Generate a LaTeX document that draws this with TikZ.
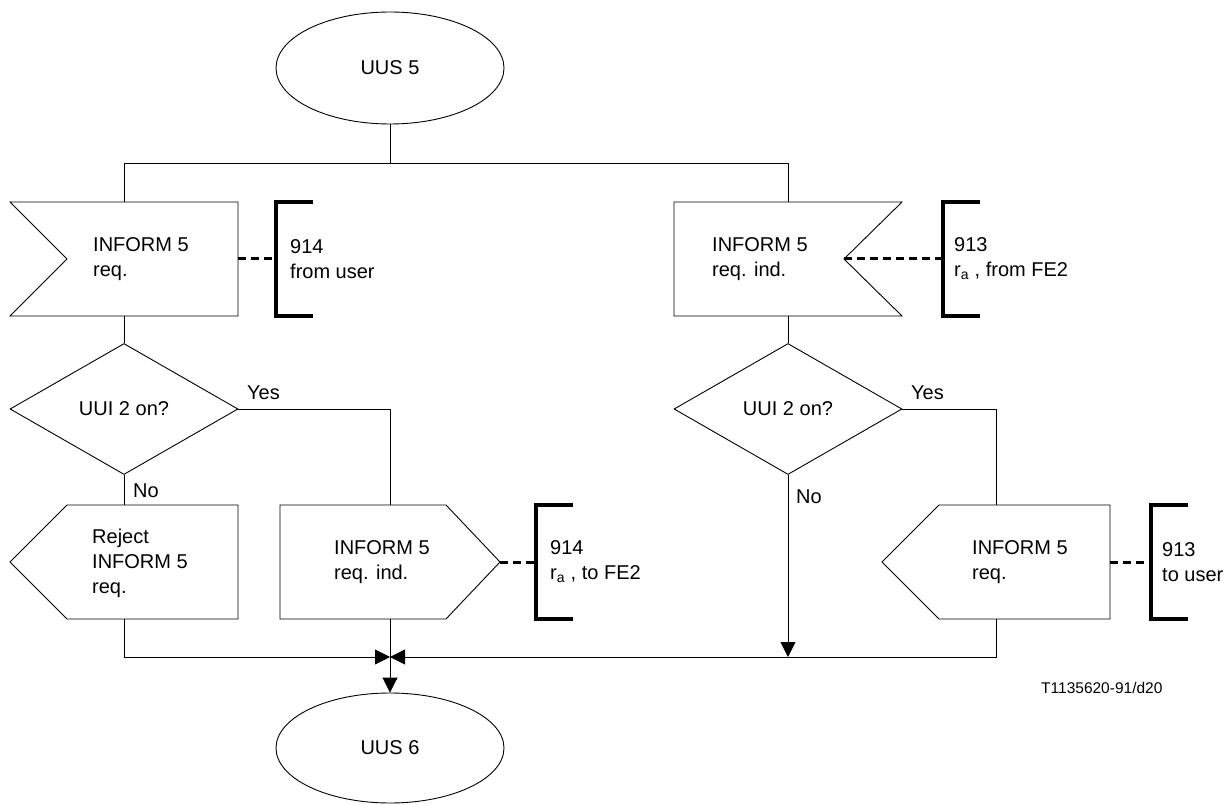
\documentclass[tikz,border=0pt]{standalone}
\usepackage{fontspec}
\setmainfont{Liberation Sans}
\usetikzlibrary{arrows.meta,shapes.geometric,calc}
\begin{document}
\begin{tikzpicture}[x=1pt,y=-1pt,
  every node/.style={font=\fontsize{20}{25}\selectfont},
  line/.style={line width=0.9pt},
  flow/.style={line, -{Triangle[length=15pt,width=15pt]}},
  area/.style={inner sep=0pt, outer sep=0pt, minimum width=228pt, minimum height=114pt},
  state/.style={ellipse, draw, line, minimum width=228pt, minimum height=112pt, inner sep=0pt},
  decision/.style={diamond, draw, line, minimum width=228pt, minimum height=131pt, inner sep=0pt},
  txt/.style={align=left, anchor=west, inner sep=0pt},
  tag/.style={inner sep=0pt, anchor=base west},
  brk/.style={inner sep=0pt, outer sep=0pt, minimum width=37pt, minimum height=114pt, anchor=west},
  ref/.style={line width=3.4pt},
  link/.style={line width=3pt, dash pattern=on 8pt off 5pt},
]
\useasboundingbox (0,0) rectangle (1227,805);

% start state and top distribution bus
\node[state] (uus5) at (390,68) {UUS 5};
\coordinate (busM) at (390,163);

% input: INFORM 5 req. (from user)
\node[area] (in1) at (124,259) {};
\draw[line] (in1.north west) -- (in1.north east) -- (in1.south east)
  -- (in1.south west) -- ($(in1.west)+(57,0)$) -- cycle;
\node[txt] (in1t) at (93,259) {INFORM 5\\req.};
\node[brk] (br1) at (276,259) {};
\draw[ref] (br1.north east) -- (br1.north west) -- (br1.south west) -- (br1.south east);
\draw[link] (in1.east) -- (br1.west);
\node[txt] (br1t) at (290,259) {914\\from user};

% input: INFORM 5 req. ind. (from FE2)
\node[area] (in2) at (788,259) {};
\coordinate (in2n) at ($(in2.east)-(58,0)$);
\draw[line] (in2.north west) -- (in2.north east) -- (in2n) -- (in2.south east)
  -- (in2.south west) -- cycle;
\node[txt] (in2t) at (712,259) {INFORM 5\\req. ind.};
\node[brk] (br2) at (943,259) {};
\draw[ref] (br2.north east) -- (br2.north west) -- (br2.south west) -- (br2.south east);
\draw[link] (in2n) -- (br2.west);
\node[txt] (br2t) at (954,259) {913\\r\textsubscript{a} , from FE2};

% decisions
\node[decision] (dec1) at (124,409) {UUI 2 on?};
\node[decision] (dec2) at (788,409) {UUI 2 on?};
\node[tag] (yes1) at (247,399) {Yes};
\node[tag] (no1) at (133,497) {No};
\node[tag] (yes2) at (911,399) {Yes};
\node[tag] (no2) at (796,503) {No};

% output: Reject INFORM 5 req.
\node[area] (out1) at (124,562) {};
\draw[line] (out1.west) -- ($(out1.north west)+(57,0)$) -- (out1.north east)
  -- (out1.south east) -- ($(out1.south west)+(57,0)$) -- cycle;
\node[txt] (out1t) at (92,563) {Reject\\INFORM 5\\req.};

% output: INFORM 5 req. ind. (to FE2)
\node[area, minimum width=220pt] (out2) at (390,562) {};
\draw[line] (out2.north west) -- ($(out2.north east)-(54,0)$) -- (out2.east)
  -- ($(out2.south east)-(54,0)$) -- (out2.south west) -- cycle;
\node[txt] (out2t) at (334,562) {INFORM 5\\req. ind.};
\node[brk] (br3) at (536,562) {};
\draw[ref] (br3.north east) -- (br3.north west) -- (br3.south west) -- (br3.south east);
\draw[link] (out2.east) -- (br3.west);
\node[txt] (br3t) at (550,562) {914\\r\textsubscript{a} , to FE2};

% output: INFORM 5 req. (to user)
\node[area] (out3) at (996,562) {};
\draw[line] (out3.west) -- ($(out3.north west)+(57,0)$) -- (out3.north east)
  -- (out3.south east) -- ($(out3.south west)+(57,0)$) -- cycle;
\node[txt] (out3t) at (972,562) {INFORM 5\\req.};
\node[brk] (br4) at (1151,562) {};
\draw[ref] (br4.north east) -- (br4.north west) -- (br4.south west) -- (br4.south east);
\draw[link] (out3.east) -- (br4.west);
\node[txt] (br4t) at (1162,562) {913\\to user};

% next state
\node[state, minimum height=110pt] (uus6) at (390,748) {UUS 6};
\coordinate (m) at (390,657);

% connectors
\draw[line] (uus5.south) -- (busM);
\draw[line] (in1.north) -- (in1.north |- busM) -- (in2.north |- busM) -- (in2.north);
\draw[line] (in1.south) -- (dec1.north);
\draw[line] (in2.south) -- (dec2.north);
\draw[line] (dec1.east) -- (dec1.east -| out2.north) -- (out2.north);
\draw[line] (dec1.south) -- (out1.north);
\draw[line] (dec2.east) -- (dec2.east -| out3.north) -- (out3.north);
\draw[flow] (out1.south) -- (out1.south |- m) -- (m);
\draw[flow] (out3.south) -- (out3.south |- m) -- (m);
\draw[flow] (dec2.south) -- (dec2.south |- m);
\draw[line] (out2.south) -- (m);
\draw[flow] (m) -- (uus6.north);

\node[inner sep=0pt, anchor=base west, font=\fontsize{15.5}{18}\selectfont] (fig) at (1041,693) {T1135620-91/d20};
\end{tikzpicture}
\end{document}
